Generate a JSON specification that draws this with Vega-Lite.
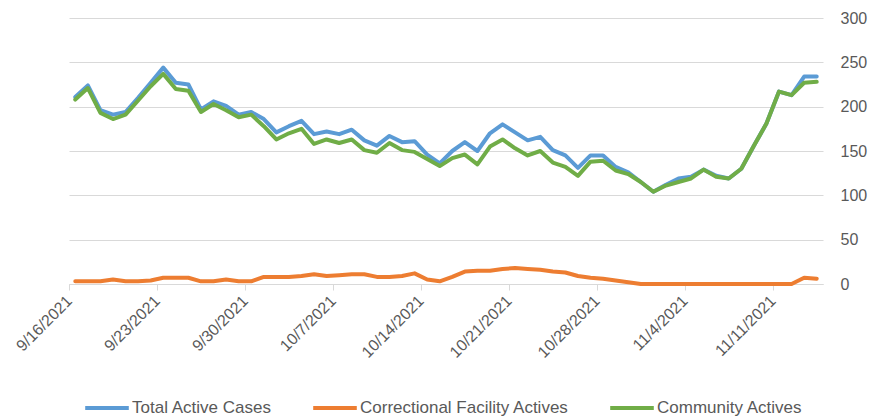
{
  "$schema": "https://vega.github.io/schema/vega-lite/v6.json",
  "width": 754,
  "height": 266,
  "autosize": {"type": "none"},
  "padding": {"left": 69, "top": 18, "right": 61, "bottom": 134},
  "background": "white",
  "config": {
    "view": {"stroke": null},
    "font": "Liberation Sans",
    "axis": {"labelColor": "#595959", "labelFont": "Liberation Sans", "labelFontSize": 16}
  },
  "data": {
    "values": [
      {"date": "2021/09/16", "total": 211, "correctional": 3, "community": 208},
      {"date": "2021/09/17", "total": 224, "correctional": 3, "community": 221},
      {"date": "2021/09/18", "total": 196, "correctional": 3, "community": 193},
      {"date": "2021/09/19", "total": 191, "correctional": 5, "community": 186},
      {"date": "2021/09/20", "total": 194, "correctional": 3, "community": 191},
      {"date": "2021/09/21", "total": 210, "correctional": 3, "community": 207},
      {"date": "2021/09/22", "total": 227, "correctional": 4, "community": 223},
      {"date": "2021/09/23", "total": 244, "correctional": 7, "community": 237},
      {"date": "2021/09/24", "total": 227, "correctional": 7, "community": 220},
      {"date": "2021/09/25", "total": 225, "correctional": 7, "community": 218},
      {"date": "2021/09/26", "total": 197, "correctional": 3, "community": 194},
      {"date": "2021/09/27", "total": 206, "correctional": 3, "community": 203},
      {"date": "2021/09/28", "total": 201, "correctional": 5, "community": 196},
      {"date": "2021/09/29", "total": 191, "correctional": 3, "community": 188},
      {"date": "2021/09/30", "total": 194, "correctional": 3, "community": 191},
      {"date": "2021/10/01", "total": 186, "correctional": 8, "community": 178},
      {"date": "2021/10/02", "total": 171, "correctional": 8, "community": 163},
      {"date": "2021/10/03", "total": 178, "correctional": 8, "community": 170},
      {"date": "2021/10/04", "total": 184, "correctional": 9, "community": 175},
      {"date": "2021/10/05", "total": 169, "correctional": 11, "community": 158},
      {"date": "2021/10/06", "total": 172, "correctional": 9, "community": 163},
      {"date": "2021/10/07", "total": 169, "correctional": 10, "community": 159},
      {"date": "2021/10/08", "total": 174, "correctional": 11, "community": 163},
      {"date": "2021/10/09", "total": 162, "correctional": 11, "community": 151},
      {"date": "2021/10/10", "total": 156, "correctional": 8, "community": 148},
      {"date": "2021/10/11", "total": 167, "correctional": 8, "community": 159},
      {"date": "2021/10/12", "total": 160, "correctional": 9, "community": 151},
      {"date": "2021/10/13", "total": 161, "correctional": 12, "community": 149},
      {"date": "2021/10/14", "total": 146, "correctional": 5, "community": 141},
      {"date": "2021/10/15", "total": 136, "correctional": 3, "community": 133},
      {"date": "2021/10/16", "total": 150, "correctional": 8, "community": 142},
      {"date": "2021/10/17", "total": 160, "correctional": 14, "community": 146},
      {"date": "2021/10/18", "total": 150, "correctional": 15, "community": 135},
      {"date": "2021/10/19", "total": 170, "correctional": 15, "community": 155},
      {"date": "2021/10/20", "total": 180, "correctional": 17, "community": 163},
      {"date": "2021/10/21", "total": 171, "correctional": 18, "community": 153},
      {"date": "2021/10/22", "total": 162, "correctional": 17, "community": 145},
      {"date": "2021/10/23", "total": 166, "correctional": 16, "community": 150},
      {"date": "2021/10/24", "total": 151, "correctional": 14, "community": 137},
      {"date": "2021/10/25", "total": 145, "correctional": 13, "community": 132},
      {"date": "2021/10/26", "total": 131, "correctional": 9, "community": 122},
      {"date": "2021/10/27", "total": 145, "correctional": 7, "community": 138},
      {"date": "2021/10/28", "total": 145, "correctional": 6, "community": 139},
      {"date": "2021/10/29", "total": 132, "correctional": 4, "community": 128},
      {"date": "2021/10/30", "total": 126, "correctional": 2, "community": 124},
      {"date": "2021/10/31", "total": 115, "correctional": 0, "community": 115},
      {"date": "2021/11/01", "total": 104, "correctional": 0, "community": 104},
      {"date": "2021/11/02", "total": 112, "correctional": 0, "community": 111},
      {"date": "2021/11/03", "total": 119, "correctional": 0, "community": 115},
      {"date": "2021/11/04", "total": 121, "correctional": 0, "community": 119},
      {"date": "2021/11/05", "total": 129, "correctional": 0, "community": 129},
      {"date": "2021/11/06", "total": 122, "correctional": 0, "community": 121},
      {"date": "2021/11/07", "total": 119, "correctional": 0, "community": 119},
      {"date": "2021/11/08", "total": 130, "correctional": 0, "community": 130},
      {"date": "2021/11/09", "total": 156, "correctional": 0, "community": 156},
      {"date": "2021/11/10", "total": 181, "correctional": 0, "community": 181},
      {"date": "2021/11/11", "total": 217, "correctional": 0, "community": 217},
      {"date": "2021/11/12", "total": 213, "correctional": 0, "community": 213},
      {"date": "2021/11/13", "total": 234, "correctional": 7, "community": 227},
      {"date": "2021/11/14", "total": 234, "correctional": 6, "community": 228}
    ]
  },
  "transform": [
    {"fold": ["total", "correctional", "community"], "as": ["series", "value"]}
  ],
  "mark": {"type": "line", "strokeWidth": 4, "strokeJoin": "round", "strokeCap": "round"},
  "encoding": {
    "x": {
      "field": "date",
      "type": "temporal",
      "timeUnit": "yearmonthdate",
      "bandPosition": 0.5,
      "scale": {"domain": [{"year": 2021, "month": 9, "date": 16}, {"year": 2021, "month": 11, "date": 15}]},
      "axis": {
        "title": null,
        "values": [
          {"year": 2021, "month": 9, "date": 16},
          {"year": 2021, "month": 9, "date": 23},
          {"year": 2021, "month": 9, "date": 30},
          {"year": 2021, "month": 10, "date": 7},
          {"year": 2021, "month": 10, "date": 14},
          {"year": 2021, "month": 10, "date": 21},
          {"year": 2021, "month": 10, "date": 28},
          {"year": 2021, "month": 11, "date": 4},
          {"year": 2021, "month": 11, "date": 11}
        ],
        "format": "%-m/%-d/%Y",
        "labelAngle": -45,
        "labelAlign": "right",
        "labelBaseline": "middle",
        "labelPadding": 8,
        "grid": false,
        "domainColor": "#d9d9d9",
        "domainWidth": 1,
        "tickColor": "#d9d9d9",
        "tickSize": 6,
        "labelFlush": false,
        "labelOverlap": false
      }
    },
    "y": {
      "field": "value",
      "type": "quantitative",
      "scale": {"domain": [0, 300]},
      "axis": {
        "title": null,
        "orient": "right",
        "values": [0, 50, 100, 150, 200, 250, 300],
        "domain": false,
        "ticks": false,
        "grid": true,
        "gridColor": "#d9d9d9",
        "gridWidth": 1.2,
        "labelPadding": 17,
        "labelAlign": "left"
      }
    },
    "color": {
      "field": "series",
      "type": "nominal",
      "scale": {
        "domain": ["total", "correctional", "community"],
        "range": ["#5B9BD5", "#ED7D31", "#70AD47"]
      },
      "legend": {
        "orient": "none",
        "direction": "horizontal",
        "legendX": 14,
        "legendY": 366,
        "title": null,
        "symbolType": "stroke",
        "symbolSize": 1900,
        "symbolStrokeWidth": 4,
        "labelFontSize": 17,
        "labelFont": "Liberation Sans",
        "labelColor": "#595959",
        "labelOffset": 1,
        "labelLimit": 400,
        "columnPadding": 33,
        "labelExpr": "datum.label == 'total' ? 'Total Active Cases' : datum.label == 'correctional' ? 'Correctional Facility Actives' : 'Community Actives'"
      }
    }
  }
}
